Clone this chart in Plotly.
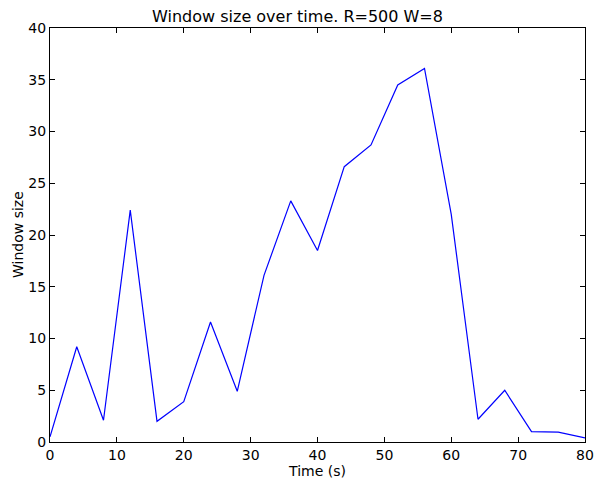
import plotly.graph_objects as go

time_s = [0, 4, 8, 12, 16, 20, 24, 28, 32, 36, 40, 44, 48, 52, 56, 60, 64, 68, 72, 76, 80]
window = [0.5, 9.2, 2.1, 22.4, 2.0, 3.9, 11.6, 4.9, 16.1, 23.3, 18.5, 26.6, 28.7, 34.5, 36.1, 22.0, 2.2, 5.0, 1.0, 0.95, 0.4]

x_ticks = [0, 10, 20, 30, 40, 50, 60, 70, 80]
y_ticks = [0, 5, 10, 15, 20, 25, 30, 35, 40]

fig = go.Figure()
fig.add_trace(go.Scatter(x=time_s, y=window, mode="lines",
                         line=dict(color="#0000ff", width=1.2)))

font = dict(family="DejaVu Sans", size=14, color="black")
axis_common = dict(showgrid=False, zeroline=False, showline=True, linecolor="black",
                   linewidth=1, mirror="ticks", ticks="inside", ticklen=5,
                   tickcolor="black", tickfont=font, automargin=False)

plot_w = 595 - 50 - 10
fig.update_layout(
    width=595, height=484,
    margin=dict(l=50, r=10, t=28, b=42),
    paper_bgcolor="white", plot_bgcolor="white",
    showlegend=False,
    title=dict(text="Window size over time. R=500 W=8", x=0.5, xanchor="center",
               y=1 - 16/484, yanchor="middle",
               font=dict(family="DejaVu Sans", size=16, color="black")),
    xaxis=dict(range=[0, 80], tickvals=x_ticks, title=dict(text="Time (s)", font=font, standoff=4),
               **axis_common),
    yaxis=dict(range=[0, 40], tickvals=y_ticks, **axis_common),
    annotations=[dict(text="Window size", textangle=-90, font=font, showarrow=False,
                      xref="paper", yref="paper", x=-(50 - 18) / plot_w, y=0.5,
                      xanchor="center", yanchor="middle")],
)

fig.write_html("out.html")
